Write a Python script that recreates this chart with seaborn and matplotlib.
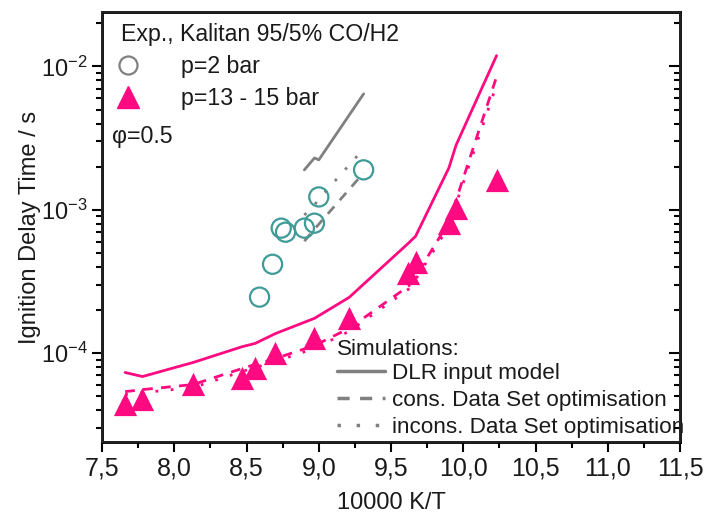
import matplotlib
matplotlib.use("Agg")
import matplotlib.pyplot as plt
import seaborn as sns
from matplotlib.lines import Line2D
from matplotlib.ticker import FuncFormatter, MultipleLocator, LogLocator, NullFormatter

# experiments, Kalitan 95/5% CO/H2
x_2bar = [8.59, 8.68, 8.74, 8.77, 8.90, 8.97, 9.00, 9.31]
tau_2bar = [2.46e-4, 4.17e-4, 7.45e-4, 6.98e-4, 7.45e-4, 8.07e-4, 1.23e-3, 1.90e-3]

x_15bar = [7.66, 7.78, 8.13, 8.47, 8.56, 8.70, 8.97, 9.21, 9.62, 9.67, 9.90, 9.95, 10.23]
tau_15bar = [4.45e-5, 4.82e-5, 6.14e-5, 6.76e-5, 7.82e-5, 1.01e-4, 1.27e-4, 1.75e-4,
             3.61e-4, 4.31e-4, 8.07e-4, 1.03e-3, 1.61e-3]

# simulations, p=2 bar
x_sim_2bar = [8.90, 8.97, 9.00, 9.31]
dlr_2bar = [1.90e-3, 2.30e-3, 2.23e-3, 6.44e-3]
cons_2bar = [6.04e-4, 7.33e-4, 7.94e-4, 1.81e-3]
incons_2bar = [9.19e-4, 1.08e-3, 1.19e-3, 2.66e-3]

# simulations, p=13-15 bar
x_sim_15bar = x_15bar
dlr_15bar = [7.33e-5, 6.87e-5, 8.61e-5, 1.11e-4, 1.17e-4, 1.37e-4, 1.75e-4, 2.45e-4,
             5.85e-4, 6.55e-4, 1.96e-3, 2.83e-3, 1.19e-2]
cons_15bar = [5.39e-5, 5.57e-5, 6.04e-5, 7.82e-5, 8.34e-5, 9.18e-5, 1.13e-4, 1.49e-4,
              2.93e-4, 3.44e-4, 8.20e-4, 1.17e-3, 8.47e-3]
incons_15bar = [5.14e-5, 5.31e-5, 5.75e-5, 7.45e-5, 7.94e-5, 8.75e-5, 1.08e-4, 1.42e-4,
                2.79e-4, 3.27e-4, 7.69e-4, 1.10e-3, 7.45e-3]

pink = '#ff0a80'
teal = '#3f9b97'
grey = '#808080'
ink = '#1a1a1a'
dashed = (0, (3.5, 3))
dotted = (0, (1, 4.5))

sns.set_theme(style='ticks')
plt.rcParams['font.family'] = ['Liberation Sans', 'DejaVu Sans']
plt.rcParams['mathtext.default'] = 'regular'

fig = plt.figure(figsize=(7.05, 5.18), dpi=100)
ax = fig.add_axes([0.1447, 0.1467, 0.8200, 0.8302])

lw = 2.0
for xs, ys, c in [(x_sim_2bar, dlr_2bar, grey), (x_sim_15bar, dlr_15bar, pink)]:
    sns.lineplot(x=xs, y=ys, ax=ax, color=c, lw=lw, sort=False, estimator=None)
for xs, ys, c in [(x_sim_2bar, cons_2bar, grey), (x_sim_15bar, cons_15bar, pink)]:
    sns.lineplot(x=xs, y=ys, ax=ax, color=c, lw=lw, linestyle=dashed, sort=False, estimator=None)
for xs, ys, c in [(x_sim_2bar, incons_2bar, grey), (x_sim_15bar, incons_15bar, pink)]:
    sns.lineplot(x=xs, y=ys, ax=ax, color=c, lw=lw, linestyle=dotted, sort=False, estimator=None)

sns.scatterplot(x=x_2bar, y=tau_2bar, ax=ax, marker='o', s=190, facecolor='none',
                edgecolor=teal, linewidth=1.6, zorder=3)
sns.scatterplot(x=x_15bar, y=tau_15bar, ax=ax, marker='^', s=280, color=pink,
                edgecolor=pink, linewidth=0, zorder=3)

ax.set_yscale('log')
ax.set_xlim(7.5, 11.5)
ax.set_ylim(2.4e-5, 2.4e-2)
ax.xaxis.set_major_locator(MultipleLocator(0.5))
ax.xaxis.set_minor_locator(MultipleLocator(0.25))
ax.xaxis.set_major_formatter(FuncFormatter(lambda v, p: f'{v:.1f}'.replace('.', ',')))
ax.yaxis.set_major_locator(LogLocator(base=10, numticks=10))
ax.yaxis.set_minor_locator(LogLocator(base=10, subs=range(2, 10), numticks=20))
ax.yaxis.set_minor_formatter(NullFormatter())

ax.tick_params(axis='both', which='major', direction='out', length=7, width=1.5,
               color='black', labelcolor=ink)
ax.tick_params(axis='x', which='major', labelsize=18)
ax.tick_params(axis='y', which='major', labelsize=17)
ax.tick_params(axis='both', which='minor', direction='out', length=4, width=1.5, color='black')
for s in ax.spines.values():
    s.set_linewidth(2)
    s.set_color('black')
    s.set_visible(True)

# inward ticks on the right spine
ax_r = ax.twinx()
ax_r.set_yscale('log')
ax_r.set_ylim(ax.get_ylim())
ax_r.yaxis.set_major_locator(LogLocator(base=10, numticks=10))
ax_r.yaxis.set_minor_locator(LogLocator(base=10, subs=range(2, 10), numticks=20))
ax_r.yaxis.set_major_formatter(NullFormatter())
ax_r.yaxis.set_minor_formatter(NullFormatter())
ax_r.tick_params(axis='y', which='major', direction='in', length=8, width=1.5, color='black')
ax_r.tick_params(axis='y', which='minor', direction='in', length=4, width=1.5, color='black')
ax_r.grid(False)

ax.set_xlabel('10000 K/T', fontsize=17, labelpad=8, color=ink)
ax.set_ylabel('Ignition Delay Time / s', fontsize=17, labelpad=0, color=ink)

exp_handles = [
    Line2D([], [], marker='o', ls='none', mfc='none', mec=grey, ms=13, mew=1.6),
    Line2D([], [], marker='^', ls='none', color=pink, ms=16),
]
leg1 = ax.legend(exp_handles, ['p=2 bar', 'p=13 - 15 bar'], title='Exp., Kalitan 95/5% CO/H2',
                 loc='upper left', bbox_to_anchor=(0.0155, 0.998), frameon=False, fontsize=16.7,
                 title_fontsize=16.7, handlelength=0.6, handletextpad=1.95, labelspacing=0.38,
                 borderpad=0.25, borderaxespad=0.2, alignment='left')
ax.add_artist(leg1)
ax.text(0.018, 0.71, 'φ=0.5', transform=ax.transAxes, fontsize=16.7, color=ink,
        va='center', ha='left')

sim_handles = [
    Line2D([], [], color=grey, lw=2.5),
    Line2D([], [], color=grey, lw=2.5, linestyle=dashed),
    Line2D([], [], color=grey, lw=2.5, linestyle=dotted),
]
leg2 = ax.legend(sim_handles, ['DLR input model', 'cons. Data Set optimisation',
                               'incons. Data Set optimisation'],
                 title='Simulations:', loc='lower left', bbox_to_anchor=(0.406, 0.01),
                 frameon=False, fontsize=16.2, title_fontsize=16.2, handlelength=2.15,
                 handletextpad=0.3, labelspacing=0.26, borderpad=0.0, borderaxespad=0.0,
                 alignment='left')
leg2._legend_box.sep = 2
for t in leg2.get_texts() + [leg2.get_title(), leg1.get_title()] + leg1.get_texts():
    t.set_color(ink)

fig.savefig('out.png', dpi=100)
